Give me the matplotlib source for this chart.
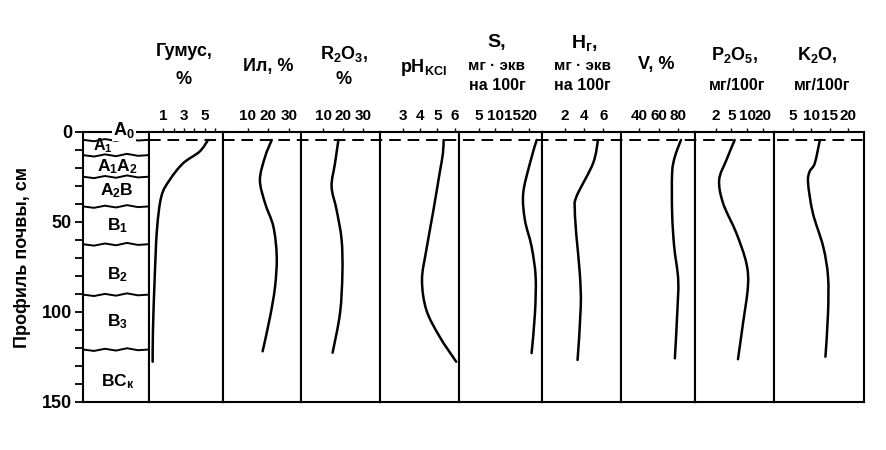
import numpy as np
import matplotlib.pyplot as plt
from matplotlib import transforms
from matplotlib.path import Path
from matplotlib.patches import PathPatch
from matplotlib.lines import Line2D

plt.rcParams['font.family'] = ['Liberation Sans', 'DejaVu Sans']
plt.rcParams['font.weight'] = 'bold'
plt.rcParams['mathtext.default'] = 'regular'
plt.rcParams['axes.linewidth'] = 1.5

W, H = 886, 450

# soil horizons: name, lower boundary (cm), label depth (cm)
horizons = [r'$A_0$', r'$A_1$', r'$A_1A_2$', r'$A_2B$', r'$B_1$', r'$B_2$', r'$B_3$', r'$BC_к$']
horizon_bottom = [4.5, 13, 25, 41.5, 62.5, 90.5, 121, 150]
horizon_label_depth = [-1, 8, 19.5, 33, 52, 79.5, 105.5, 139]
horizon_label_x = [0.62, 0.3, 0.52, 0.52, 0.52, 0.52, 0.52, 0.52]

# profiles (depth in cm)
depth_humus = [4.6, 11, 17.6, 26.8, 36, 54.6, 82, 110, 127.8]
humus = [5.3, 4.5, 2.9, 1.63, 0.83, 0.41, 0.19, 0.03, 0.0]

depth_silt = [4.6, 13.9, 26.8, 39.8, 52.8, 69.4, 86, 102.8, 122]
silt = [21.6, 18.4, 15.9, 18.4, 22.4, 24, 23.2, 20.8, 17.2]

depth_r2o3 = [4.6, 17.6, 30.5, 43.5, 60, 78.7, 100.9, 122.8]
r2o3 = [17.7, 16, 14.3, 16.8, 19.3, 19.7, 18.5, 14.8]

depth_ph = [4.6, 12, 23, 45.3, 65.7, 82.4, 99, 113.9, 127.8]
ph = [5.36, 5.32, 5.13, 4.74, 4.36, 4.11, 4.36, 5.13, 6.09]

depth_s = [4.6, 17.6, 34.2, 49, 63.9, 80.6, 100.9, 123]
s_bases = [22.3, 20.3, 18.3, 18.8, 20.8, 22, 21.8, 20.8]

depth_h = [4.6, 17.6, 36, 43.5, 58.3, 78.7, 97.2, 126.8]
h_acid = [5.44, 4.93, 3.23, 3.06, 3.23, 3.57, 3.67, 3.34]

depth_v = [4.6, 13.9, 23, 45.3, 63.9, 82.4, 100.9, 125.9]
v_sat = [82.6, 76.4, 73.6, 73.6, 75.7, 79.8, 78.8, 76.4]

depth_p = [4.6, 15.7, 26.8, 39.8, 56.4, 73, 86, 106.4, 126.4]
p2o5 = [6.05, 4.07, 2.69, 3.44, 6.6, 9.75, 10.5, 8.7, 7.1]

depth_k = [4.6, 17.6, 22.2, 28.7, 45.3, 63.9, 80.6, 100.9, 125]
k2o = [12.3, 10.9, 9.5, 9.1, 10.4, 13.2, 14.5, 14.5, 13.8]

# P2O5 axis is drawn with evenly spaced ticks 2, 5, 10, 20
p2o5_ticks = [2, 5, 10, 20]

humus_ticks = [1, 2, 3, 4, 5, 6]
humus_labels = ['1', '', '3', '', '5', '']
silt_ticks = [10, 20, 30]
r2o3_ticks = [10, 20, 30]
ph_ticks = [3, 4, 5, 6]
s_ticks = [5, 10, 15, 20]
h_ticks = [2, 4, 6]
v_ticks = [40, 60, 80]
k_ticks = [5, 10, 15, 20]


def px(x):
    return x / W


def py(y):
    return 1 - y / H


def smooth_path(x, y):
    # Catmull-Rom curve through the read points
    p = np.column_stack([x, y]).astype(float)
    ext = np.vstack([p[0], p, p[-1]])
    verts = [p[0]]
    codes = [Path.MOVETO]
    for k in range(1, len(ext) - 2):
        c1 = ext[k] + (ext[k + 1] - ext[k - 1]) / 6
        c2 = ext[k + 1] - (ext[k + 2] - ext[k]) / 6
        verts += [c1, c2, ext[k + 1]]
        codes += [Path.CURVE4] * 3
    return Path(verts, codes)


fig = plt.figure(figsize=(W / 100, H / 100), dpi=100)
y_top, y_bot = 131.7, 401.7

# ---- soil profile column ----
ax_p = fig.add_axes([px(83), py(y_bot), px(149) - px(83), (y_bot - y_top) / H])
ax_p.set_xlim(0, 1)
ax_p.set_ylim(150, 0)
ax_p.set_xticks([])
ax_p.set_yticks([0, 50, 100, 150])
ax_p.set_yticks(np.arange(0, 151, 10), minor=True)
ax_p.tick_params(axis='y', which='both', direction='out', length=6, width=1.3,
                 labelsize=13, pad=2)
wave_x = np.linspace(0, 1, 7)
wave = np.array([0, 0.8, -0.4, 0.6, -0.7, 0.4, 0])
for d in horizon_bottom[:-1]:
    ax_p.plot(wave_x, d + wave, color='black', lw=1.4)
for name, d, x in zip(horizons, horizon_label_depth, horizon_label_x):
    if d < 0:
        ax_p.text(x, d, name, ha='center', va='center', fontsize=13, zorder=5,
                  bbox=dict(facecolor='white', edgecolor='none', pad=0.5), clip_on=False)
    else:
        ax_p.text(x, d, name, ha='center', va='center', fontsize=12.5 if d > 15 else 11.5)
fig.text(px(23), py(258), 'Профиль почвы, см', rotation=90, ha='center', va='center', fontsize=13)

# ---- property panels ----
edges = [149, 223, 301, 380, 459, 542, 621, 695, 774, 864]
limits = [(-0.35, 6.73), (-1.9, 35.7), (-1, 38.5), (1.68, 6.25), (-0.84, 23.9),
          (-0.31, 7.8), (21.5, 96.9), (-0.3, 4.7), (-0.14, 24.25)]
p_idx = np.arange(1, len(p2o5_ticks) + 1)
panels = [
    (humus, depth_humus, humus_ticks, humus_labels),
    (silt, depth_silt, silt_ticks, None),
    (r2o3, depth_r2o3, r2o3_ticks, None),
    (ph, depth_ph, ph_ticks, None),
    (s_bases, depth_s, s_ticks, None),
    (h_acid, depth_h, h_ticks, None),
    (v_sat, depth_v, v_ticks, None),
    (np.interp(p2o5, p2o5_ticks, p_idx), depth_p, p_idx, p2o5_ticks),
    (k2o, depth_k, k_ticks, None),
]
axes = []
for i, (vals, depths, ticks, labels) in enumerate(panels):
    ax = fig.add_axes([px(edges[i]), py(y_bot), px(edges[i + 1]) - px(edges[i]), (y_bot - y_top) / H])
    ax.set_ylim(150, 0)
    ax.set_xlim(*limits[i])
    ax.xaxis.tick_top()
    ax.set_xticks(ticks)
    ax.set_xticklabels([str(t) for t in (labels if labels is not None else ticks)])
    ax.set_yticks([])
    ax.tick_params(axis='x', direction='out', length=3, width=1, pad=3, labelsize=11)
    ax.add_patch(PathPatch(smooth_path(vals, depths), fill=False, lw=1.8, capstyle='round'))
    axes.append(ax)

# A0 boundary as a dashed line across all panels
trans = transforms.blended_transform_factory(fig.transFigure, axes[0].transData)
fig.add_artist(Line2D([px(149), px(864)], [horizon_bottom[0], horizon_bottom[0]], transform=trans,
                      color='black', lw=1.4, linestyle=(0, (6, 3.5))))

# ---- column titles ----
tsize = 13
fig.text(px(184), py(52), 'Гумус,', ha='center', va='center', fontsize=tsize)
fig.text(px(184), py(80), '%', ha='center', va='center', fontsize=tsize)
fig.text(px(268), py(66), 'Ил, %', ha='center', va='center', fontsize=tsize)
fig.text(px(344), py(54), r'$R_2O_3$,', ha='center', va='center', fontsize=tsize)
fig.text(px(344), py(80), '%', ha='center', va='center', fontsize=tsize)
fig.text(px(423), py(68), r'$pH_{KCl}$', ha='center', va='center', fontsize=tsize)
fig.text(px(497), py(43), 'S,', ha='center', va='center', fontsize=tsize + 1)
fig.text(px(497), py(66), 'мг · экв', ha='center', va='center', fontsize=11)
fig.text(px(497), py(86), 'на 100г', ha='center', va='center', fontsize=11.5)
fig.text(px(584), py(43), r'$H_г$,', ha='center', va='center', fontsize=tsize + 1)
fig.text(px(582), py(66), 'мг · экв', ha='center', va='center', fontsize=11)
fig.text(px(582), py(86), 'на 100г', ha='center', va='center', fontsize=11.5)
fig.text(px(656), py(64), 'V, %', ha='center', va='center', fontsize=tsize)
fig.text(px(735), py(55), r'$P_2O_5$,', ha='center', va='center', fontsize=tsize)
fig.text(px(737), py(85), 'мг/100г', ha='center', va='center', fontsize=11.5)
fig.text(px(817), py(55), r'$K_2O$,', ha='center', va='center', fontsize=tsize)
fig.text(px(822), py(85), 'мг/100г', ha='center', va='center', fontsize=11.5)

fig.savefig('out.png', dpi=100)
